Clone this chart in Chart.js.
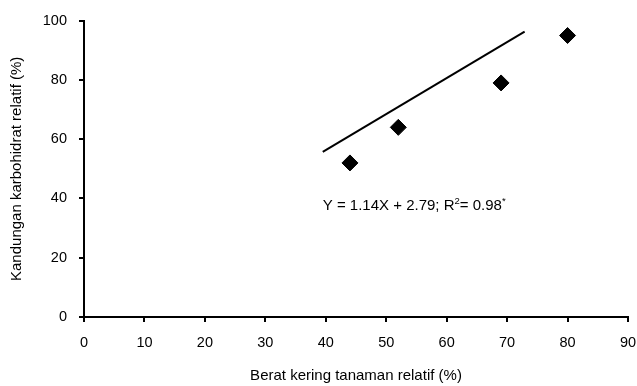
<!DOCTYPE html>
<html>
<head>
<meta charset="utf-8">
<script src="https://cdn.jsdelivr.net/npm/chart.js@4"></script>
<style>
  html, body { margin: 0; padding: 0; background: #fff; }
  #wrap { width: 637px; height: 386px; }
</style>
</head>
<body>
<div id="wrap"><canvas id="chart" width="637" height="386"></canvas></div>
<script>
// datos
const beratKering = [44, 52, 69, 80]
const karbohidrat = [52, 64, 79, 95]
// extremos de la recta de regresión tal como está dibujada
const garisX = [39.5, 72.9]
const garisY = [55.7, 96.3]
const xTicks = [0, 10, 20, 30, 40, 50, 60, 70, 80, 90]
const yTicks = [0, 20, 40, 60, 80, 100]

const fuente = '"Liberation Sans", Arial, sans-serif'

// texto de la ecuación y título del eje x
const textoPlugin = {
  id: 'textos',
  afterDraw(chart) {
    const { ctx, scales } = chart
    ctx.save()
    ctx.fillStyle = '#000'
    ctx.textBaseline = 'alphabetic'
    let x = scales.x.getPixelForValue(39.5)
    const y = scales.y.getPixelForValue(36.0)
    const partes = [
      ['Y = 1.14X + 2.79; R', 15, 0],
      ['2', 9.5, -6],
      ['= 0.98', 15, 0],
      ['*', 9.5, -6]
    ]
    partes.forEach(([t, size, dy]) => {
      ctx.font = `${size}px ${fuente}`
      ctx.fillText(t, x, y + dy)
      x += ctx.measureText(t).width
    })
    ctx.font = `15px ${fuente}`
    ctx.textAlign = 'center'
    ctx.textBaseline = 'middle'
    const cx = (chart.chartArea.left + chart.chartArea.right) / 2
    ctx.fillText('Berat kering tanaman relatif (%)', cx, 376)
    ctx.restore()
  }
}

new Chart(document.getElementById('chart'), {
  type: 'scatter',
  data: {
    datasets: [
      {
        label: 'Data',
        data: beratKering.map((v, i) => ({ x: v, y: karbohidrat[i] })),
        pointStyle: 'rectRot',
        pointRadius: 8,
        pointHoverRadius: 8,
        backgroundColor: '#000',
        borderColor: '#000',
        borderWidth: 1
      },
      {
        type: 'line',
        label: 'Regresi',
        data: garisX.map((v, i) => ({ x: v, y: garisY[i] })),
        borderColor: '#000',
        borderWidth: 2,
        pointRadius: 0,
        fill: false
      }
    ]
  },
  options: {
    responsive: false,
    animation: false,
    layout: { padding: { top: 20, right: 2, left: 0, bottom: 0 } },
    plugins: {
      legend: { display: false },
      tooltip: { enabled: false }
    },
    scales: {
      x: {
        type: 'linear',
        min: 0,
        max: 90,
        afterBuildTicks: s => { s.ticks = xTicks.map(v => ({ value: v })) },
        afterFit: s => {
          s.height = 69
          s.paddingLeft = 0
          s.paddingRight = 8
        },
        border: { color: '#000', width: 2 },
        grid: { drawOnChartArea: false, color: '#000', lineWidth: 2, tickLength: 5 },
        ticks: { color: '#000', padding: 12, font: { family: fuente, size: 14.5 } }
      },
      y: {
        min: 0,
        max: 100,
        afterBuildTicks: s => { s.ticks = yTicks.map(v => ({ value: v })) },
        afterFit: s => { s.width = 84 },
        border: { color: '#000', width: 2 },
        grid: { drawOnChartArea: false, color: '#000', lineWidth: 2, tickLength: 5 },
        ticks: { color: '#000', padding: 12, font: { family: fuente, size: 14.5 } },
        title: {
          display: true,
          text: 'Kandungan karbohidrat relatif (%)',
          color: '#000',
          padding: { top: 8, bottom: 0 },
          font: { family: fuente, size: 15 }
        }
      }
    }
  },
  plugins: [textoPlugin]
})
</script>
</body>
</html>
